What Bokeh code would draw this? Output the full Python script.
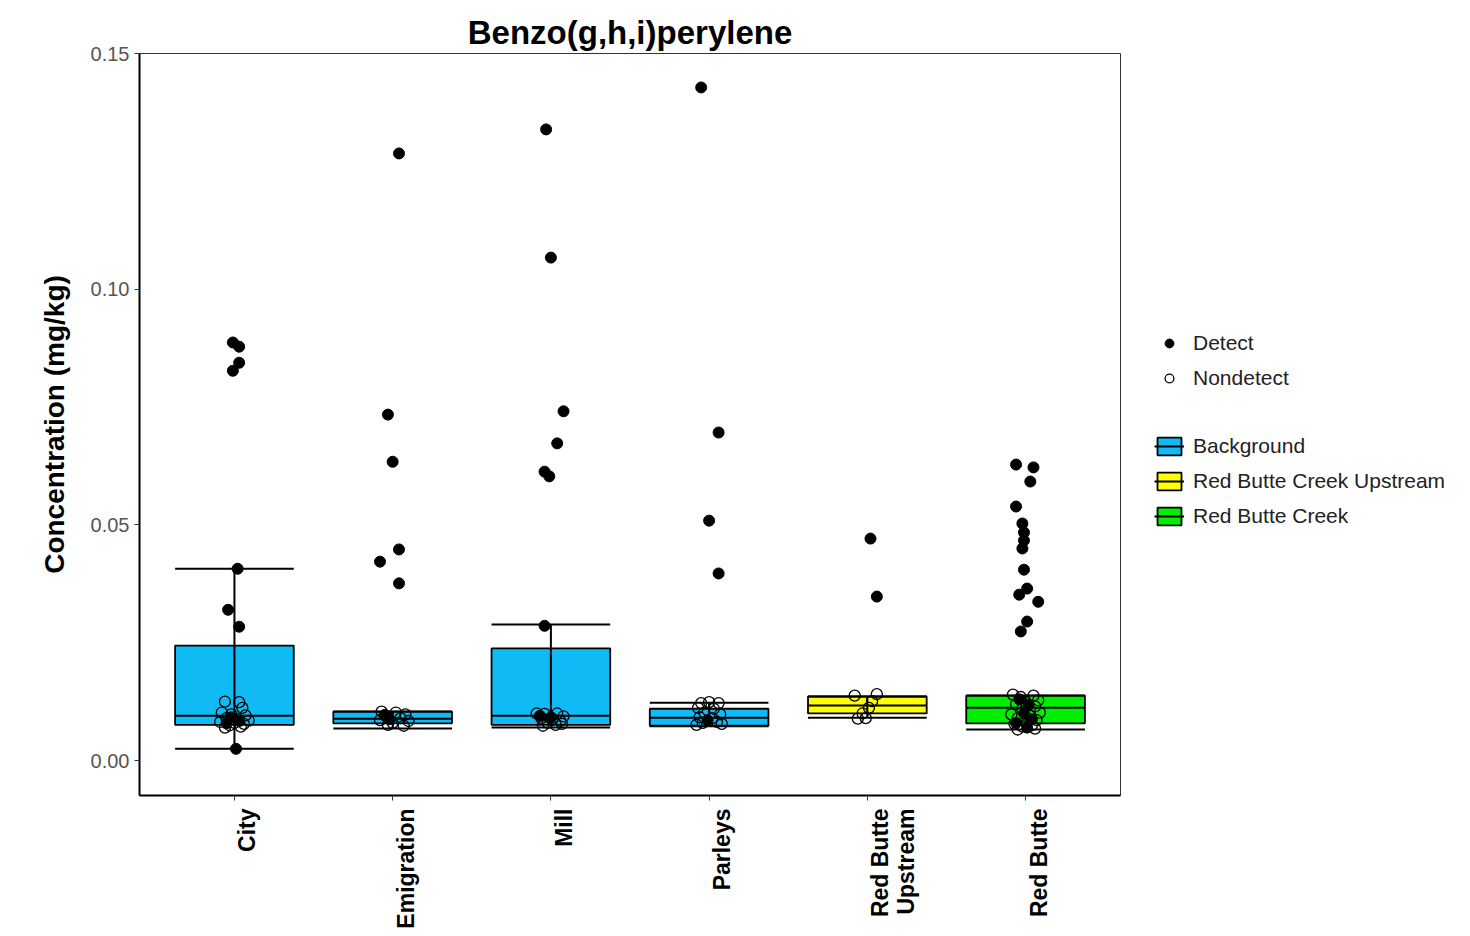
import math
from bokeh.plotting import figure
from bokeh.models import (ColumnDataSource, Range1d, FixedTicker, NumeralTickFormatter,
                          Legend, LegendItem)
from bokeh.embed import file_html
from bokeh.resources import INLINE

# ---------------- data ----------------
categories = ["City", "Emigration", "Mill", "Parleys", "Red Butte Upstream", "Red Butte"]
tick_labels = ["City", "Emigration", "Mill", "Parleys", "Red Butte\nUpstream", "Red Butte"]
cat_group = ["Background", "Background", "Background", "Background",
             "Red Butte Creek Upstream", "Red Butte Creek"]

lower_whisker = [0.0025, 0.0068, 0.0070, 0.0073, 0.0091, 0.0066]
q1 = [0.0076, 0.0079, 0.0076, 0.0074, 0.0100, 0.0079]
median = [0.0095, 0.0089, 0.0095, 0.0091, 0.0117, 0.0112]
q3 = [0.0244, 0.0104, 0.0238, 0.0110, 0.0136, 0.0138]
upper_whisker = [0.0407, 0.0104, 0.0289, 0.0123, 0.0136, 0.0138]

group_names = ["Background", "Red Butte Creek Upstream", "Red Butte Creek"]
group_colors = ["#10BAF5", "#FFFF00", "#00EE00"]

detect_site = (["City"] * 11 + ["Emigration"] * 8 + ["Mill"] * 9 + ["Parleys"] * 5
               + ["Red Butte Upstream"] * 2 + ["Red Butte"] * 20)
detect_offset = [-0.01, 0.03, 0.03, -0.01, -0.04, 0.03, 0.02, 0.01, -0.02, 0.03, -0.05,
                 0.04, -0.03, 0.00, 0.04, -0.08, 0.04, -0.05, -0.02,
                 -0.03, 0.00, 0.08, 0.04, -0.04, -0.01, -0.04, -0.07, 0.00,
                 -0.05, 0.06, 0.00, 0.06, -0.01,
                 0.02, 0.06,
                 -0.06, 0.05, 0.03, -0.06, -0.02, -0.01, -0.01, -0.02, -0.01, 0.01,
                 -0.04, 0.08, 0.01, -0.03, -0.04, 0.02, -0.01, 0.04, -0.06, 0.01]
detect_value = [0.0887, 0.0878, 0.0844, 0.0827, 0.0320, 0.0284, 0.0407, 0.0025, 0.0092, 0.0084, 0.0079,
                0.1288, 0.0734, 0.0634, 0.0448, 0.0422, 0.0376, 0.0097, 0.0088,
                0.1339, 0.1067, 0.0741, 0.0673, 0.0613, 0.0603, 0.0286, 0.0095, 0.0092,
                0.1428, 0.0696, 0.0509, 0.0397, 0.0086,
                0.0471, 0.0348,
                0.0628, 0.0622, 0.0592, 0.0539, 0.0503, 0.0484, 0.0467, 0.0450, 0.0405, 0.0365,
                0.0352, 0.0337, 0.0295, 0.0274, 0.0130, 0.0118, 0.0100, 0.0088, 0.0080, 0.0070]

nondetect_site = (["City"] * 15 + ["Emigration"] * 10 + ["Mill"] * 11 + ["Parleys"] * 13
                  + ["Red Butte Upstream"] * 7 + ["Red Butte"] * 19)
nondetect_offset = [-0.06, 0.03, 0.05, -0.08, -0.02, 0.07, -0.05, 0.02, 0.09, -0.09, 0.00, 0.06, -0.03, 0.04, -0.06,
                    -0.07, 0.02, 0.08, -0.04, 0.05, -0.08, 0.10, 0.00, 0.07, -0.03,
                    -0.09, -0.04, 0.04, 0.08, -0.06, 0.01, 0.06, -0.02, 0.03, -0.05, 0.07,
                    -0.05, 0.00, 0.06, -0.07, 0.03, -0.03, 0.07, -0.06, 0.02, 0.05, -0.04, 0.08, -0.08,
                    -0.08, 0.06, 0.03, 0.01, -0.03, -0.06, -0.01,
                    -0.08, 0.05, -0.03, 0.08, 0.00, -0.06, 0.06, -0.02, 0.09, -0.09, 0.03, -0.05, 0.07,
                    0.00, -0.07, 0.04, -0.02, 0.06, -0.05]
nondetect_value = [0.0125, 0.0124, 0.0112, 0.0102, 0.0098, 0.0096, 0.0090, 0.0088, 0.0085, 0.0082, 0.0080,
                   0.0078, 0.0075, 0.0072, 0.0070,
                   0.0104, 0.0102, 0.0098, 0.0094, 0.0090, 0.0086, 0.0084, 0.0080, 0.0074, 0.0076,
                   0.0100, 0.0099, 0.0100, 0.0094, 0.0090, 0.0088, 0.0084, 0.0080, 0.0076, 0.0074, 0.0078,
                   0.0122, 0.0124, 0.0122, 0.0112, 0.0110, 0.0102, 0.0098, 0.0092, 0.0090, 0.0082, 0.0080,
                   0.0078, 0.0076,
                   0.0138, 0.0141, 0.0126, 0.0112, 0.0100, 0.0089, 0.0090,
                   0.0140, 0.0138, 0.0135, 0.0128, 0.0125, 0.0120, 0.0115, 0.0110, 0.0102, 0.0098, 0.0095,
                   0.0090, 0.0086, 0.0082, 0.0078, 0.0075, 0.0072, 0.0068, 0.0066]

BOX_W = 0.75
FONT = "Liberation Sans"

# ---------------- figure ----------------
p = figure(frame_width=981, frame_height=742, output_backend="svg", toolbar_location=None,
           x_range=Range1d(0.4, 6.6), y_range=Range1d(-0.0074, 0.15),
           min_border_left=139, min_border_right=345, min_border_top=53, min_border_bottom=10,
           title="Benzo(g,h,i)perylene")
p.title.text_font = FONT
p.title.text_font_size = "33px"
p.title.text_font_style = "bold"
p.title.align = "center"
p.title.text_color = "black"
p.title.offset = 0
p.title.standoff = 6

p.xgrid.visible = False
p.ygrid.visible = False
p.outline_line_color = "#333333"
p.outline_line_width = 1
p.background_fill_color = "white"
p.border_fill_color = "white"

# axes
p.yaxis.ticker = FixedTicker(ticks=[0.0, 0.05, 0.10, 0.15])
p.yaxis.formatter = NumeralTickFormatter(format="0.00")
p.yaxis.axis_label = "Concentration (mg/kg)"
p.yaxis.axis_label_text_font = FONT
p.yaxis.axis_label_text_font_size = "28px"
p.yaxis.axis_label_text_font_style = "bold"
p.yaxis.axis_label_text_color = "black"
p.yaxis.axis_label_standoff = 18
p.yaxis.major_label_text_font = FONT
p.yaxis.major_label_text_font_size = "20px"
p.yaxis.major_label_text_color = "#555555"
p.yaxis.major_label_standoff = 5
p.yaxis.minor_tick_line_color = None

p.xaxis.ticker = FixedTicker(ticks=[1, 2, 3, 4, 5, 6])
# leading blank lines move each rotated label just right of its tick, as in the source chart
p.xaxis.major_label_overrides = {
    i + 1: "\n" * (lab.count("\n") + 1) + lab for i, lab in enumerate(tick_labels)}
p.xaxis.major_label_orientation = math.pi / 2
p.xaxis.major_label_text_font = FONT
p.xaxis.major_label_text_font_size = "23px"
p.xaxis.major_label_text_line_height = 1.0
p.xaxis.major_label_text_font_style = "bold"
p.xaxis.major_label_text_color = "black"
p.xaxis.major_label_standoff = 8
p.xaxis.minor_tick_line_color = None

for ax in (p.xaxis, p.yaxis):
    ax.axis_line_color = "black"
    ax.axis_line_width = 2
    ax.major_tick_line_color = "#333333"
    ax.major_tick_line_width = 1
    ax.major_tick_out = 5
    ax.major_tick_in = 0

# ---------------- boxes ----------------
box_renderers = {}
med_renderers = {}
for g, col in zip(group_names, group_colors):
    idx = [i for i, cg in enumerate(cat_group) if cg == g]
    src = ColumnDataSource(dict(
        x=[i + 1 for i in idx],
        x0=[i + 1 - BOX_W / 2 for i in idx],
        x1=[i + 1 + BOX_W / 2 for i in idx],
        q1=[q1[i] for i in idx], q3=[q3[i] for i in idx],
        med=[median[i] for i in idx],
    ))
    box_renderers[g] = p.vbar(x="x", width=BOX_W, bottom="q1", top="q3", source=src,
                              fill_color=col, line_color="black", line_width=1.8)
    med_renderers[g] = p.segment(x0="x0", y0="med", x1="x1", y1="med", source=src,
                                 line_color="black", line_width=2)

wsrc = ColumnDataSource(dict(
    x=[i + 1 for i in range(len(categories))],
    x0=[i + 1 - BOX_W / 2 for i in range(len(categories))],
    x1=[i + 1 + BOX_W / 2 for i in range(len(categories))],
    lw=lower_whisker, uw=upper_whisker,
))
p.segment(x0="x", y0="lw", x1="x", y1="uw", source=wsrc, line_color="black", line_width=2)
p.segment(x0="x0", y0="lw", x1="x1", y1="lw", source=wsrc, line_color="black", line_width=2)
p.segment(x0="x0", y0="uw", x1="x1", y1="uw", source=wsrc, line_color="black", line_width=2)

# ---------------- points ----------------
nd_src = ColumnDataSource(dict(
    x=[categories.index(s) + 1 + o for s, o in zip(nondetect_site, nondetect_offset)],
    y=nondetect_value))
d_src = ColumnDataSource(dict(
    x=[categories.index(s) + 1 + o for s, o in zip(detect_site, detect_offset)],
    y=detect_value))
nd_r = p.scatter(x="x", y="y", source=nd_src, size=11, marker="circle",
                 fill_color=None, line_color="black", line_width=1.3)
d_r = p.scatter(x="x", y="y", source=d_src, size=11, marker="circle",
                fill_color="black", line_color="black")

spacer = p.scatter(x=[], y=[], size=1, fill_alpha=0, line_alpha=0)

items = [LegendItem(label="Detect", renderers=[d_r]),
         LegendItem(label="Nondetect", renderers=[nd_r]),
         LegendItem(label=" ", renderers=[spacer])]
for g in group_names:
    items.append(LegendItem(label=g, renderers=[box_renderers[g], med_renderers[g]]))

legend = Legend(items=items, location=(34, 267), border_line_color=None,
                background_fill_alpha=0, label_text_font=FONT, label_text_font_size="21px",
                label_text_color="#222222", glyph_width=30, glyph_height=22, label_height=22,
                spacing=11, label_standoff=9, padding=0, margin=0)
p.add_layout(legend, "right")

open("out.html", "w").write(file_html(p, INLINE))
